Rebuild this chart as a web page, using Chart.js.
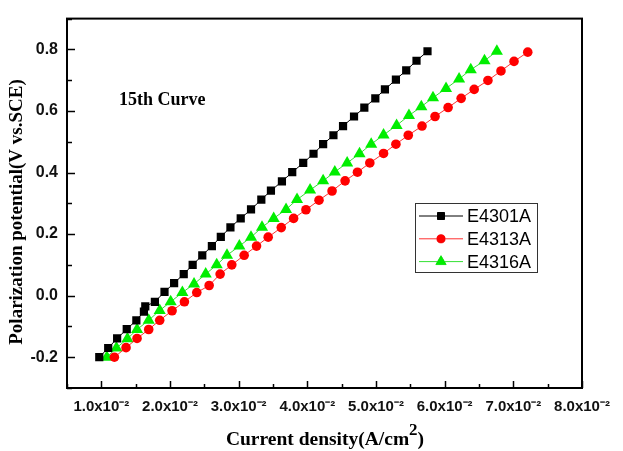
<!DOCTYPE html>
<html>
<head>
<meta charset="utf-8">
<script src="https://cdn.jsdelivr.net/npm/chart.js@4.4.1/dist/chart.umd.min.js"></script>
<style>
  html, body { margin: 0; padding: 0; background: #fff; }
  #wrap { width: 623px; height: 451px; }
</style>
</head>
<body>
<div id="wrap"><canvas id="chart"></canvas></div>
<script>
// series: current density (A/cm2) and potential (V vs. SCE)
const seriesNames = ['E4301A', 'E4313A', 'E4316A'];

const e4301X = [0.0097, 0.0110, 0.0123, 0.0137, 0.0151, 0.0162, 0.0164, 0.0178, 0.0192, 0.0206, 0.0220, 0.0233,
  0.0247, 0.0261, 0.0274, 0.0288, 0.0303, 0.0318, 0.0333, 0.0347, 0.0363, 0.0378, 0.0394, 0.0409, 0.0423, 0.0438,
  0.0452, 0.0468, 0.0483, 0.0499, 0.0513, 0.0529, 0.0544, 0.0559, 0.0575];
const e4301Y = [-0.200, -0.170, -0.139, -0.109, -0.080, -0.052, -0.035, -0.020, 0.012, 0.041, 0.070, 0.100,
  0.131, 0.161, 0.191, 0.222, 0.251, 0.280, 0.312, 0.341, 0.371, 0.401, 0.431, 0.461, 0.492, 0.521,
  0.551, 0.582, 0.611, 0.641, 0.670, 0.702, 0.732, 0.763, 0.794];

const e4313X = [0.0119, 0.0136, 0.0152, 0.0169, 0.0185, 0.0203, 0.0221, 0.0239, 0.0257, 0.0273, 0.0290, 0.0308,
  0.0326, 0.0343, 0.0362, 0.0380, 0.0398, 0.0417, 0.0436, 0.0455, 0.0473, 0.0491, 0.0511, 0.0529, 0.0547, 0.0567,
  0.0586, 0.0605, 0.0624, 0.0643, 0.0663, 0.0682, 0.0701, 0.0721];
const e4313Y = [-0.200, -0.169, -0.139, -0.110, -0.080, -0.049, -0.020, 0.010, 0.033, 0.070, 0.100, 0.131,
  0.161, 0.190, 0.221, 0.251, 0.279, 0.310, 0.340, 0.373, 0.401, 0.431, 0.462, 0.492, 0.521, 0.551,
  0.582, 0.611, 0.641, 0.670, 0.699, 0.730, 0.761, 0.791];

const e4316X = [0.0108, 0.0122, 0.0138, 0.0152, 0.0169, 0.0185, 0.0201, 0.0218, 0.0235, 0.0252, 0.0268, 0.0283,
  0.0301, 0.0318, 0.0334, 0.0351, 0.0369, 0.0385, 0.0404, 0.0423, 0.0440, 0.0458, 0.0476, 0.0493, 0.0511, 0.0530,
  0.0548, 0.0566, 0.0583, 0.0602, 0.0621, 0.0638, 0.0658, 0.0676];
const e4316Y = [-0.200, -0.170, -0.140, -0.110, -0.080, -0.048, -0.020, 0.010, 0.038, 0.070, 0.100, 0.131,
  0.161, 0.190, 0.222, 0.251, 0.280, 0.312, 0.343, 0.373, 0.402, 0.431, 0.461, 0.492, 0.522, 0.553,
  0.585, 0.614, 0.643, 0.673, 0.704, 0.734, 0.763, 0.794];

const xMin = 0.005, xMax = 0.08, xStep = 0.005;
const yMin = -0.3, yMax = 0.9, yStep = 0.1;

function pts(xs, ys) {
  return xs.map((x, i) => ({ x: x, y: ys[i] }));
}

function isMult(v, m) {
  const q = v / m;
  return Math.abs(q - Math.round(q)) < 1e-6;
}

// inward ticks, box frame, titles, inset legend
const frame = {
  id: 'frame',
  afterDraw(chart) {
    const ctx = chart.ctx;
    const a = chart.chartArea;
    const xs = chart.scales.x, ys = chart.scales.y;
    ctx.save();
    ctx.strokeStyle = '#000';
    ctx.lineWidth = 1.5;
    xs.ticks.forEach(t => {
      const px = Math.round(xs.getPixelForValue(t.value)) + 0.5;
      const len = isMult(t.value, 0.01) ? 7 : 4;
      ctx.beginPath(); ctx.moveTo(px, a.bottom); ctx.lineTo(px, a.bottom - len); ctx.stroke();
    });
    ys.ticks.forEach(t => {
      const py = Math.round(ys.getPixelForValue(t.value)) + 0.5;
      const len = isMult(t.value, 0.2) ? 8 : 5;
      ctx.beginPath(); ctx.moveTo(a.left, py); ctx.lineTo(a.left + len, py); ctx.stroke();
    });
    ctx.lineWidth = 2;
    ctx.strokeRect(a.left, a.top, a.right - a.left, a.bottom - a.top);

    // text
    ctx.fillStyle = '#000';
    ctx.font = 'bold 18px "Liberation Serif", serif';
    ctx.textBaseline = 'middle';
    ctx.textAlign = 'left';
    ctx.fillText('15th Curve', 119, 100);

    ctx.save();
    ctx.translate(17, 212);
    ctx.rotate(-Math.PI / 2);
    ctx.textAlign = 'center';
    ctx.font = 'bold 19px "Liberation Serif", serif';
    ctx.fillText('Polarization potential(V vs.SCE)', 0, 0);
    ctx.restore();

    const t1 = 'Current density(A/cm', t2 = '2', t3 = ')';
    ctx.font = 'bold 19.5px "Liberation Serif", serif';
    const w1 = ctx.measureText(t1).width, w3 = ctx.measureText(t3).width;
    ctx.font = 'bold 17px "Liberation Serif", serif';
    const w2 = ctx.measureText(t2).width;
    let x0 = 325 - (w1 + w2 + w3) / 2;
    ctx.textAlign = 'left';
    ctx.font = 'bold 19.5px "Liberation Serif", serif';
    ctx.fillText(t1, x0, 440);
    ctx.font = 'bold 17px "Liberation Serif", serif';
    ctx.fillText(t2, x0 + w1, 431);
    ctx.font = 'bold 19.5px "Liberation Serif", serif';
    ctx.fillText(t3, x0 + w1 + w2, 440);

    // legend
    ctx.lineWidth = 1;
    ctx.strokeStyle = '#333';
    ctx.strokeRect(415.5, 203.5, 122, 69);
    ctx.font = '18px "Liberation Sans", Arial, sans-serif';
    chart.data.datasets.forEach((ds, i) => {
      const yy = 216 + i * 22.8;
      ctx.strokeStyle = ds.borderColor;
      ctx.lineWidth = 1;
      ctx.beginPath(); ctx.moveTo(419, yy); ctx.lineTo(463, yy); ctx.stroke();
      Chart.helpers.drawPoint(ctx, {
        pointStyle: ds.pointStyle, radius: ds.pointRadius * 0.85, rotation: 0, borderWidth: 1
      }, 441, yy);
      ctx.fillStyle = ds.pointBackgroundColor;
      ctx.strokeStyle = ds.pointBackgroundColor;
      ctx.fill();
      ctx.fillStyle = '#000';
      ctx.fillText(ds.label, 467, yy + 1);
    });
    ctx.restore();
  }
};

new Chart(document.getElementById('chart'), {
  type: 'scatter',
  data: {
    datasets: [
      {
        label: seriesNames[0], data: pts(e4301X, e4301Y), showLine: true,
        borderColor: '#000000', borderWidth: 1,
        pointStyle: 'rect', pointRadius: 5.8, pointBackgroundColor: '#000000', pointBorderColor: '#000000', pointBorderWidth: 0
      },
      {
        label: seriesNames[1], data: pts(e4313X, e4313Y), showLine: true,
        borderColor: '#ff3030', borderWidth: 1,
        pointStyle: 'circle', pointRadius: 4.8, pointBackgroundColor: '#ff0000', pointBorderColor: '#ff0000', pointBorderWidth: 0
      },
      {
        label: seriesNames[2], data: pts(e4316X, e4316Y), showLine: true,
        borderColor: '#33e033', borderWidth: 1,
        pointStyle: 'triangle', pointRadius: 7, pointBackgroundColor: '#00ee00', pointBorderColor: '#00ee00', pointBorderWidth: 0
      }
    ]
  },
  options: {
    responsive: true,
    maintainAspectRatio: false,
    animation: false,
    layout: { padding: { top: 11, right: 41, left: 0, bottom: 0 } },
    plugins: { legend: { display: false }, tooltip: { enabled: false } },
    scales: {
      x: {
        type: 'linear', min: xMin, max: xMax,
        afterFit(s) { s.height = 63; },
        grid: { display: false, drawTicks: false },
        border: { display: false },
        ticks: {
          stepSize: xStep, autoSkip: false, maxRotation: 0, padding: 10, color: '#111',
          font: { family: '"Liberation Sans", Arial, sans-serif', size: 15, weight: 'bold' },
          callback: v => isMult(v, 0.01) ? (v * 100).toFixed(1) + 'x10\u207B\u00B2' : ''
        }
      },
      y: {
        type: 'linear', min: yMin, max: yMax,
        afterFit(s) { s.width = 67; },
        grid: { display: false, drawTicks: false },
        border: { display: false },
        ticks: {
          stepSize: yStep, autoSkip: false, padding: 9, color: '#111',
          font: { family: '"Liberation Sans", Arial, sans-serif', size: 16, weight: 'bold' },
          callback: v => isMult(v, 0.2) ? v.toFixed(1) : ''
        }
      }
    }
  },
  plugins: [frame]
});
</script>
</body>
</html>
